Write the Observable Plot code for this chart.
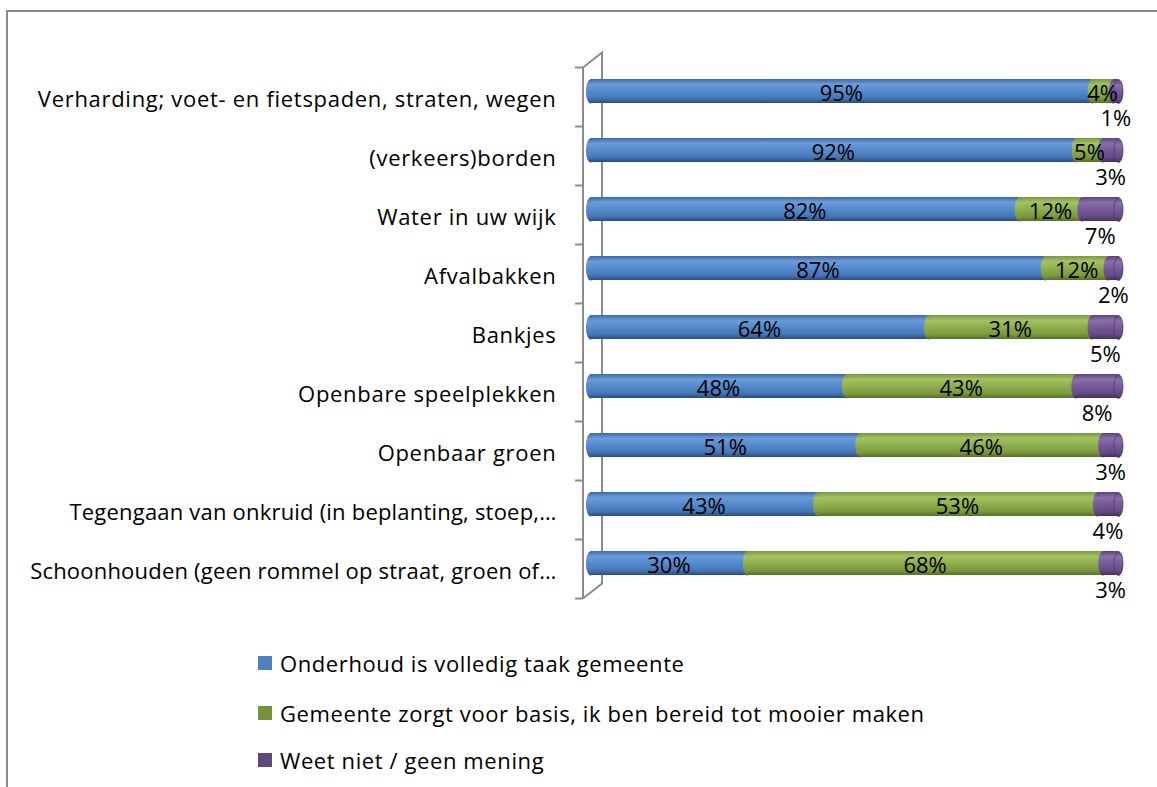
<!DOCTYPE html>
<html>
<head>
<meta charset="utf-8">
<script src="https://cdn.jsdelivr.net/npm/d3@7"></script>
<script src="https://cdn.jsdelivr.net/npm/@observablehq/plot@0.6"></script>
<style>
  html, body { margin: 0; padding: 0; background: #fff; }
  body { width: 1157px; height: 787px; position: relative; overflow: hidden; font-family: "Open Sans", Lato, sans-serif; }
  #frame { position: absolute; left: 6px; top: 10px; width: 1200px; height: 900px; border-left: 2px solid #8a8a8a; border-top: 2px solid #8a8a8a; box-sizing: border-box; }
  #chart { position: absolute; left: 0; top: 0; }
  #legend { position: absolute; left: 258px; top: 0; }
  .li { position: absolute; left: 0; white-space: nowrap; font-size: 22px; letter-spacing: 0.6px; color: #000; display: flex; align-items: center; }
  .sw { width: 14px; height: 14px; margin-right: 8px; flex: none; }
</style>
</head>
<body>
<div id="frame"></div>
<div id="chart"></div>
<div id="legend"></div>
<script>
const categories = [
  "Verharding; voet- en fietspaden, straten, wegen",
  "(verkeers)borden",
  "Water in uw wijk",
  "Afvalbakken",
  "Bankjes",
  "Openbare speelplekken",
  "Openbaar groen",
  "Tegengaan van onkruid (in beplanting, stoep,…",
  "Schoonhouden (geen rommel op straat, groen of…"
];
const seriesNames = [
  "Onderhoud is volledig taak gemeente",
  "Gemeente zorgt voor basis, ik ben bereid tot mooier maken",
  "Weet niet / geen mening"
];
const volledigGemeente = [95, 92, 82, 87, 64, 48, 51, 43, 30];
const basisMooier      = [4, 5, 12, 12, 31, 43, 46, 53, 68];
const weetNiet         = [1, 3, 7, 2, 5, 8, 3, 4, 3];

const seriesValues = [volledigGemeente, basisMooier, weetNiet];
const gradIds = ["gBlue", "gGreen", "gPurple"];
const legendColors = ["#4F81BD", "#77933C", "#604A7B"];

const data = [];
categories.forEach((c, i) => {
  seriesNames.forEach((s, j) => {
    data.push({cat: c, series: s, value: seriesValues[j][i], si: j});
  });
});

function ellipseSymbol(rx, ry) {
  return {
    draw(ctx) {
      const k = 0.5522847498;
      ctx.moveTo(rx, 0);
      ctx.bezierCurveTo(rx, ry * k, rx * k, ry, 0, ry);
      ctx.bezierCurveTo(-rx * k, ry, -rx, ry * k, -rx, 0);
      ctx.bezierCurveTo(-rx, -ry * k, -rx * k, -ry, 0, -ry);
      ctx.bezierCurveTo(rx * k, -ry, rx, -ry * k, rx, 0);
      ctx.closePath();
    }
  };
}

const W = 1157, H = 630;
const mTop = 59.25, mBottom = H - 594.75, mLeft = 590, mRight = W - 1118;
const bandStep = (H - mTop - mBottom) / categories.length;
const barH = bandStep * 0.4;
const cap = ellipseSymbol(4.5, barH / 2);
const FONT = "'Open Sans', Lato, sans-serif";

const colorOpts = {domain: seriesNames, range: gradIds.map(g => `url(#${g})`)};
const stackOpts = {x: "value", y: "cat", z: "series", offset: "normalize", order: null};

const plot = Plot.plot({
  width: W,
  height: H,
  marginTop: mTop,
  marginBottom: mBottom,
  marginLeft: mLeft,
  marginRight: mRight,
  style: {fontFamily: FONT, background: "transparent"},
  x: {domain: [0, 1], axis: null},
  y: {domain: categories, paddingInner: 0.6, paddingOuter: 0.3, axis: null},
  color: {...colorOpts, legend: false},
  marks: [
    Plot.axisY({tickSize: 0, tickPadding: 34, fontSize: 22, fill: "#000", textAnchor: "end", label: null, dy: 8}),
    Plot.barX(data, Plot.stackX({...stackOpts, fill: "series"})),
    // cylinder start faces of each segment
    Plot.dot(data, Plot.stackX1({...stackOpts, fill: "series", symbol: cap, r: 5, stroke: "none"})),
    // cylinder end face
    Plot.dot(categories, {x: () => 1, y: d => d, symbol: cap, r: 5, fill: "url(#gPurple)", stroke: "#4a3566", strokeWidth: 0.7}),
    // labels inside bars
    Plot.text(data, Plot.stackX({...stackOpts, text: d => d.si === 2 ? null : `${d.value}%`, fontSize: 22, fill: "#000", dy: 2})),
    // labels below bars (purple)
    Plot.text(data, Plot.stackX({...stackOpts, text: d => d.si === 2 ? `${d.value}%` : null, fontSize: 22, fill: "#000", dy: 27}))
  ]
});

const svg = d3.select(plot);
svg.selectAll('[aria-label="y-axis tick label"] text')
  .style("letter-spacing", function() { return this.textContent.includes("…") ? "0.2px" : "0.7px"; });
const defs = svg.insert("defs", ":first-child");
const grads = {
  gBlue:   [["0%", "#3d6aa6"], ["22%", "#6c9bd8"], ["50%", "#558bcf"], ["80%", "#4577b6"], ["100%", "#2a4c7d"]],
  gGreen:  [["0%", "#7a9740"], ["22%", "#a4c263"], ["50%", "#8fae4c"], ["80%", "#7c9a3d"], ["100%", "#56702a"]],
  gPurple: [["0%", "#5c4479"], ["22%", "#8a70ab"], ["50%", "#765a98"], ["80%", "#654b85"], ["100%", "#44305d"]]
};
for (const [id, stops] of Object.entries(grads)) {
  const g = defs.append("linearGradient").attr("id", id).attr("x1", 0).attr("y1", 0).attr("x2", 0).attr("y2", 1);
  for (const [o, c] of stops) g.append("stop").attr("offset", o).attr("stop-color", c);
}

// 3D wall (axis) lines drawn behind the bars
const xs = plot.scale("x"), ys = plot.scale("y");
const x0 = xs.apply(0);
const bandTop = ys.apply(categories[0]) - (ys.step - ys.bandwidth) / 2;
const yTop = bandTop + 6;
const yBot = yTop + ys.step * categories.length;
const fx = x0 - 7, bx = x0 + 12, depth = 15;
const wall = svg.insert("g", "defs + *").attr("stroke", "#8c8c8c").attr("stroke-width", 2).attr("fill", "none");
wall.append("path").attr("d", `M${fx},${yTop}V${yBot}`);
wall.append("path").attr("d", `M${fx},${yTop}L${bx},${yTop - depth}V${yBot - depth}L${fx},${yBot}`);
for (let i = 0; i <= categories.length; i++) {
  const yy = yTop + i * ys.step;
  wall.append("path").attr("d", `M${fx - 8},${yy}H${fx}`);
}

document.getElementById("chart").appendChild(plot);

// legend
const legend = document.getElementById("legend");
const rowY = [663, 713, 760];
seriesNames.forEach((s, i) => {
  const div = document.createElement("div");
  div.className = "li";
  div.style.top = (rowY[i] - 15) + "px";
  div.style.height = "30px";
  div.innerHTML = `<span class="sw" style="background:${legendColors[i]}"></span><span>${s}</span>`;
  legend.appendChild(div);
});
</script>
</body>
</html>
